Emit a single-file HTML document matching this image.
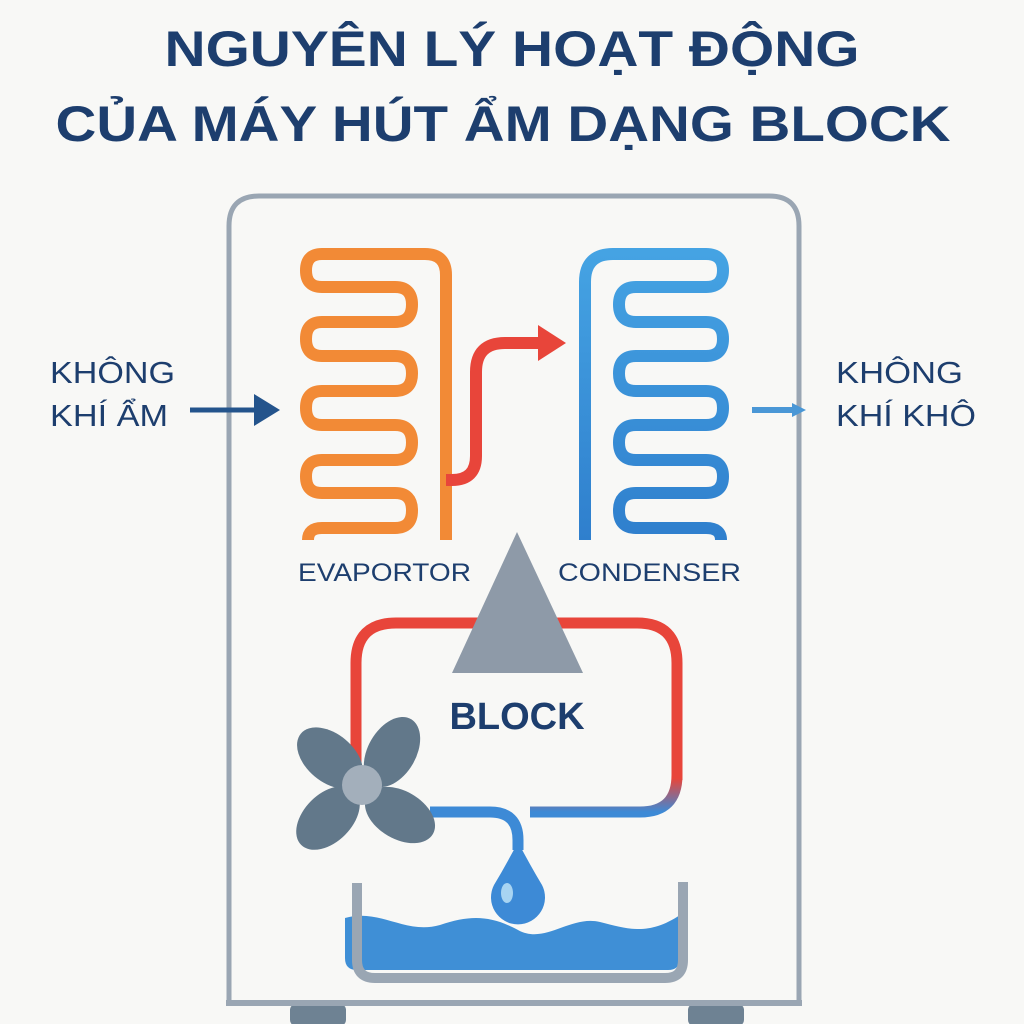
<!DOCTYPE html>
<html><head><meta charset="utf-8"><style>
html,body{margin:0;padding:0;background:#f8f8f6;}
svg{display:block;}
text{font-family:"Liberation Sans","DejaVu Sans",sans-serif;}
</style></head><body>
<svg width="1024" height="1024" viewBox="0 0 1024 1024" xmlns="http://www.w3.org/2000/svg">
<defs>
<linearGradient id="bl" x1="0" y1="0" x2="0" y2="1"><stop offset="0" stop-color="#45a3e3"/><stop offset="1" stop-color="#2f7fcd"/></linearGradient>
<linearGradient id="rb" x1="0" y1="0" x2="0" y2="1"><stop offset="0" stop-color="#e8453a"/><stop offset="0.7" stop-color="#e8453a"/><stop offset="1" stop-color="#3d8ad6"/></linearGradient>
</defs>
<rect width="1024" height="1024" fill="#f8f8f6"/>
<text x="512" y="66" text-anchor="middle" font-size="50" font-weight="bold" fill="#1d3e6e" textLength="695" lengthAdjust="spacingAndGlyphs">NGUYÊN LÝ HOẠT ĐỘNG</text>
<text x="503" y="141" text-anchor="middle" font-size="50" font-weight="bold" fill="#1d3e6e" textLength="895" lengthAdjust="spacingAndGlyphs">CỦA MÁY HÚT ẨM DẠNG BLOCK</text>

<rect x="290" y="1004" width="56" height="22" rx="6" fill="#6e8293"/>
<rect x="688" y="1004" width="56" height="22" rx="6" fill="#6e8293"/>
<path d="M229,1003 V226 Q229,196 259,196 H769 Q799,196 799,226 V1003" fill="none" stroke="#9aa6b3" stroke-width="5"/>
<line x1="226" y1="1003" x2="802" y2="1003" stroke="#9aa6b3" stroke-width="6"/>

<path d="M446,540 V275 Q446,254 425,254 H322 Q306,254 306,270.5 Q306,287 322,287 H395 Q412,287 412,304.5 Q412,322 395,322 H322 Q306,322 306,339 Q306,356 322,356 H395 Q412,356 412,373.5 Q412,391 395,391 H322 Q306,391 306,408 Q306,425 322,425 H395 Q412,425 412,442.5 Q412,460 395,460 H322 Q306,460 306,476.5 Q306,493 322,493 H395 Q412,493 412,510.5 Q412,528 395,528 H322 Q308,528 308,540" fill="none" stroke="#f28a36" stroke-width="12"/>
<path d="M446,480 H452 Q476,480 476,456 V372 Q476,343 505,343 H542" fill="none" stroke="#e8453a" stroke-width="12"/>
<polygon points="538,325 566,343 538,361" fill="#e8453a"/>

<path d="M585,540 V282 Q585,254 613,254 H706 Q723,254 723,270.5 Q723,287 706,287 H636 Q619,287 619,304.5 Q619,322 636,322 H706 Q723,322 723,339 Q723,356 706,356 H636 Q619,356 619,373.5 Q619,391 636,391 H706 Q723,391 723,408 Q723,425 706,425 H636 Q619,425 619,442.5 Q619,460 636,460 H706 Q723,460 723,476.5 Q723,493 706,493 H636 Q619,493 619,510.5 Q619,528 636,528 H706 Q721,528 721,540" fill="none" stroke="url(#bl)" stroke-width="12"/>

<text x="298" y="581" font-size="25" font-weight="500" fill="#1d3e6e" textLength="173" lengthAdjust="spacingAndGlyphs">EVAPORTOR</text>
<text x="558" y="581" font-size="25" font-weight="500" fill="#1d3e6e" textLength="183" lengthAdjust="spacingAndGlyphs">CONDENSER</text>

<path d="M356,770 V663 Q356,623 396,623 H637 Q677,623 677,663 V780" fill="none" stroke="#e8453a" stroke-width="11"/>
<path d="M677,700 V775 Q677,812 640,812 H530" fill="none" stroke="url(#rb)" stroke-width="11"/>
<polygon points="517,532 583,673 452,673" fill="#8e9aa8"/>
<text x="517" y="729" text-anchor="middle" font-size="38" font-weight="bold" fill="#1d3e6e">BLOCK</text>

<path d="M430,812 H490 Q518,812 518,840 V850" fill="none" stroke="#3d8ad6" stroke-width="11"/>
<path d="M518,842 Q530,865 542,885 A27,27 0 1 1 494,885 Q506,865 518,842 Z" fill="#3d8ad6"/>
<ellipse cx="507" cy="893" rx="6" ry="10" fill="#a8d4f2"/>

<g fill="#62788a">
<ellipse cx="0" cy="0" rx="38" ry="24" transform="translate(330,758) rotate(40)"/>
<ellipse cx="0" cy="0" rx="38" ry="24" transform="translate(392,752) rotate(-60)"/>
<ellipse cx="0" cy="0" rx="38" ry="24" transform="translate(400,815) rotate(30)"/>
<ellipse cx="0" cy="0" rx="38" ry="24" transform="translate(328,818) rotate(-45)"/>
</g>
<circle cx="362" cy="785" r="20" fill="#a3afbb"/>

<path d="M345,918 C380,908 405,935 440,925 C470,915 490,915 518,930 C545,945 570,915 600,922 C630,930 650,935 680,915 V958 Q680,970 668,970 H357 Q345,970 345,958 Z" fill="#3f8fd6"/>
<path d="M357,883 V960 Q357,978 375,978 H665 Q683,978 683,960 V882" fill="none" stroke="#9aa6b3" stroke-width="10"/>

<text x="50" y="383" font-size="31" fill="#1d3e6e" textLength="125" lengthAdjust="spacingAndGlyphs">KHÔNG</text>
<text x="50" y="426" font-size="31" fill="#1d3e6e" textLength="118" lengthAdjust="spacingAndGlyphs">KHÍ ẨM</text>
<line x1="190" y1="410" x2="258" y2="410" stroke="#24548c" stroke-width="5"/>
<polygon points="254,394 280,410 254,426" fill="#24548c"/>
<text x="836" y="383" font-size="31" fill="#1d3e6e" textLength="127" lengthAdjust="spacingAndGlyphs">KHÔNG</text>
<text x="836" y="426" font-size="31" fill="#1d3e6e" textLength="140" lengthAdjust="spacingAndGlyphs">KHÍ KHÔ</text>
<line x1="752" y1="410" x2="795" y2="410" stroke="#4a97d6" stroke-width="6"/>
<polygon points="792,403 806,410 792,417" fill="#4a97d6"/>
</svg>
</body></html>
